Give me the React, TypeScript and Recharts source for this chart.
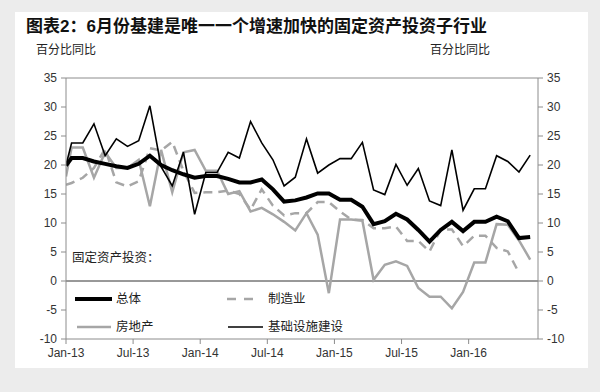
import { LineChart, Line, XAxis, YAxis, ReferenceLine } from "recharts";

// --- Data (同比, %) ---
const tickLabels = ["Jan-13", "Jul-13", "Jan-14", "Jul-14", "Jan-15", "Jul-15", "Jan-16"];
const tickMonths = [0, 6, 12, 18, 24, 30, 36];
const yTicks = [-10, -5, 0, 5, 10, 15, 20, 25, 30, 35];

// 总体
const total = [
  19.9, 21.2, 21.2, 20.6, 20.2, 19.8, 19.5, 20.2, 21.6, 20.0, 19.1, 18.4, 17.8, 18.1, 18.1,
  17.6, 17.0, 17.0, 17.5, 15.8, 13.7, 13.9, 14.4, 15.1, 15.1, 14.0, 14.0, 12.8, 9.8, 10.3,
  11.6, 10.6, 8.8, 6.8, 8.8, 10.2, 8.6, 10.2, 10.2, 11.1, 10.3, 7.4, 7.6,
];
// 制造业
const manufacturing = [
  16.6, 16.9, 17.8, 19.5, 22.8, 17.0, 16.3, 17.2, 22.9, 22.5, 24.0, 19.0, 15.2, 15.3, 15.3,
  15.6, 15.0, 12.3, 15.8, 13.0, 11.3, 11.7, 11.7, 13.6, 13.6, 12.0, 10.6, 10.5, 9.1, 9.1,
  9.4, 6.9, 6.9, 5.1, 8.9, 8.9, 6.0, 7.8, 7.8, 5.7, 5.1, 1.4, null,
];
// 房地产
const realEstate = [
  18.0, 23.0, 23.0, 17.8, 22.2, 19.5, 19.5, 20.9, 12.9, 22.6, 15.3, 22.2, 22.6, 19.0, 19.0,
  15.0, 15.5, 12.0, 12.6, 11.5, 10.2, 8.7, 11.7, 8.0, -2.1, 10.6, 10.6, 10.4, 0.2, 2.8,
  3.4, 2.6, -1.2, -2.7, -2.7, -4.7, -1.9, 3.2, 3.2, 9.8, 9.7, 7.0, 3.7,
];
// 基础设施建设
const infrastructure = [
  20.0, 23.8, 23.8, 27.1, 21.6, 24.5, 23.2, 24.2, 30.2, 19.7, 16.4, 22.2, 11.5, 18.7, 18.7,
  22.2, 21.2, 27.5, 23.8, 20.9, 16.4, 17.9, 24.5, 18.6, 20.0, 21.1, 21.1, 23.9, 15.7, 14.9,
  20.1, 16.5, 19.4, 13.8, 13.0, 22.6, 12.2, 15.9, 15.9, 21.6, 20.6, 18.8, 21.7,
];

// first point sits on the Jan-13 tick, the rest at mid-month
const data = total.map((v, i) => ({
  x: i === 0 ? 0 : i - 0.5,
  total: v,
  manufacturing: manufacturing[i],
  realEstate: realEstate[i],
  infrastructure: infrastructure[i],
}));

const FONT = '"Liberation Sans", Arial, "Noto Sans CJK SC", sans-serif';
const GRAY = "#a6a6a6";
const AXIS = "#8c8c8c";
const tickStyle = { fontSize: 12, fill: "#333", fontFamily: FONT };

export default function App() {
  return (
    <div
      style={{
        position: "absolute",
        left: 0,
        top: 0,
        width: 600,
        height: 392,
        background: "#ececec",
        fontFamily: FONT,
      }}
    >
      <div
        style={{
          position: "absolute",
          left: 15,
          top: 12,
          width: 573,
          height: 356,
          background: "#fff",
        }}
      />
      <div
        style={{
          position: "absolute",
          left: 26,
          top: 18,
          fontSize: 17,
          lineHeight: "17px",
          fontWeight: "bold",
          color: "#111",
          whiteSpace: "nowrap",
        }}
      >
        图表2：6月份基建是唯一一个增速加快的固定资产投资子行业
      </div>
      <div style={{ position: "absolute", left: 36, top: 44, fontSize: 12, lineHeight: "12px", color: "#222" }}>
        百分比同比
      </div>
      <div style={{ position: "absolute", left: 430, top: 44, fontSize: 12, lineHeight: "12px", color: "#222" }}>
        百分比同比
      </div>

      <div style={{ position: "absolute", left: 0, top: 0 }}>
        <LineChart
          width={600}
          height={392}
          data={data}
          margin={{ top: 78, right: 12, bottom: 23, left: 16 }}
        >
          <XAxis
            dataKey="x"
            type="number"
            domain={[0, 42.2]}
            ticks={tickMonths}
            tickFormatter={(v: number) => tickLabels[tickMonths.indexOf(v)] ?? ""}
            tick={tickStyle}
            tickSize={5}
            tickMargin={4}
            height={30}
            stroke={AXIS}
            allowDataOverflow
          />
          <YAxis
            yAxisId="left"
            domain={[-10, 35]}
            ticks={yTicks}
            tick={tickStyle}
            tickSize={5}
            tickMargin={4}
            width={50}
            stroke={AXIS}
            interval={0}
          />
          <YAxis
            yAxisId="right"
            orientation="right"
            domain={[-10, 35]}
            ticks={yTicks}
            tick={tickStyle}
            tickSize={5}
            tickMargin={4}
            width={50}
            stroke={AXIS}
            interval={0}
          />
          <ReferenceLine yAxisId="left" y={35} stroke={AXIS} strokeWidth={1} />
          <ReferenceLine yAxisId="left" y={0} stroke="#333" strokeWidth={1} />
          <Line
            yAxisId="left"
            dataKey="manufacturing"
            stroke={GRAY}
            strokeWidth={2.5}
            strokeDasharray="9 6"
            dot={false}
            isAnimationActive={false}
          />
          <Line
            yAxisId="left"
            dataKey="realEstate"
            stroke={GRAY}
            strokeWidth={2.5}
            dot={false}
            isAnimationActive={false}
          />
          <Line
            yAxisId="left"
            dataKey="total"
            stroke="#000"
            strokeWidth={4}
            dot={false}
            isAnimationActive={false}
          />
          <Line
            yAxisId="left"
            dataKey="infrastructure"
            stroke="#000"
            strokeWidth={1.6}
            dot={false}
            isAnimationActive={false}
          />
          <Line
            yAxisId="right"
            dataKey="total"
            stroke="none"
            dot={false}
            legendType="none"
            isAnimationActive={false}
          />
        </LineChart>
      </div>

      {/* in-plot legend */}
      <svg
        width={600}
        height={392}
        style={{ position: "absolute", left: 0, top: 0, pointerEvents: "none" }}
      >
        <g fontFamily={FONT} fontSize={12.5} fill="#222" dominantBaseline="central">
          <text x={72} y={258}>固定资产投资：</text>
          <line x1={75} y1={299} x2={112} y2={299} stroke="#000" strokeWidth={4} />
          <text x={116} y={299}>总体</text>
          <line x1={227} y1={299} x2={254} y2={299} stroke={GRAY} strokeWidth={2.5} strokeDasharray="9 8" />
          <text x={268} y={299}>制造业</text>
          <line x1={77} y1={327} x2={111} y2={327} stroke={GRAY} strokeWidth={2.5} />
          <text x={116} y={327}>房地产</text>
          <line x1={228} y1={327} x2={263} y2={327} stroke="#000" strokeWidth={1.6} />
          <text x={268} y={327}>基础设施建设</text>
        </g>
      </svg>
    </div>
  );
}
